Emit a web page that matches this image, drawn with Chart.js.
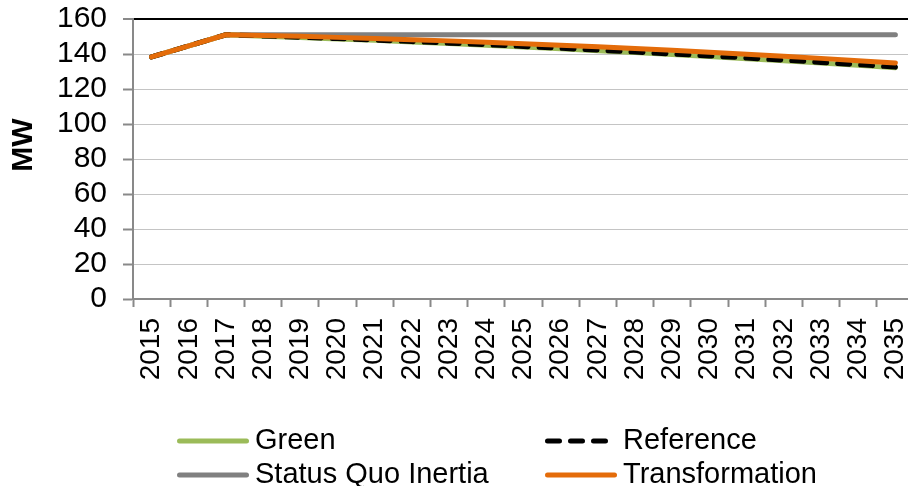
<!DOCTYPE html>
<html>
<head>
<meta charset="utf-8">
<script src="https://cdn.jsdelivr.net/npm/chart.js@4/dist/chart.umd.min.js"></script>
<style>
  html, body { margin: 0; padding: 0; background: #fff; overflow: hidden; width: 908px; height: 486px; }
  #wrap { position: absolute; left: 0; top: 0; width: 914px; height: 486px; }
  #legend { position: absolute; left: 0; top: 0; font-family: "Liberation Sans", Arial, sans-serif; font-size: 29px; color: #000; }
  .item { position: absolute; display: flex; align-items: center; white-space: nowrap; line-height: 29px; height: 29px; }
  .item svg { margin-right: 6px; }
</style>
</head>
<body>
<div id="wrap"><canvas id="c"></canvas></div>
<div id="legend"></div>
<script>
// Annual capacity (MW) under four scenarios, 2015-2035
const years = ['2015','2016','2017','2018','2019','2020','2021','2022','2023','2024','2025',
               '2026','2027','2028','2029','2030','2031','2032','2033','2034','2035'];

const green          = [138.3, 144.7, 151.0, 150.2, 149.4, 148.6, 147.8, 146.9, 146.0, 145.0, 144.0,
                        143.0, 141.9, 140.8, 139.7, 138.5, 137.3, 136.1, 134.8, 133.5, 132.2];
const reference      = [138.3, 144.7, 151.0, 150.3, 149.6, 148.8, 148.0, 147.1, 146.2, 145.3, 144.3,
                        143.3, 142.2, 141.1, 140.0, 138.9, 137.7, 136.5, 135.2, 133.9, 132.5];
const statusQuo      = [138.3, 144.7, 151.0, 151.0, 151.0, 151.0, 151.0, 151.0, 151.0, 151.0, 151.0,
                        151.0, 151.0, 151.0, 151.0, 151.0, 151.0, 151.0, 151.0, 151.0, 151.0];
const transformation = [138.3, 144.7, 151.0, 150.6, 150.1, 149.5, 148.9, 148.2, 147.5, 146.7, 145.9,
                        145.0, 144.1, 143.1, 142.1, 141.0, 139.9, 138.7, 137.5, 136.2, 134.9];

const yTicks = [0, 20, 40, 60, 80, 100, 120, 140, 160];
const yTitle = 'MW';

const FONT = '"Liberation Sans", Arial, sans-serif';
const DASH = [12, 11];

// legend order: Green, Reference / Status Quo Inertia, Transformation
const series = [
  { label: 'Green',               data: green,          color: '#9BBB59', dash: [],   order: 2 },
  { label: 'Reference',           data: reference,      color: '#000000', dash: DASH, order: 1 },
  { label: 'Status Quo Inertia',  data: statusQuo,      color: '#808080', dash: [],   order: 3 },
  { label: 'Transformation',      data: transformation, color: '#E46C0A', dash: [],   order: 0 }
];

const yTitlePlugin = {
  id: 'yTitle',
  afterDraw(chart) {
    const { ctx, chartArea } = chart;
    ctx.save();
    ctx.translate(24, chartArea.top + chartArea.height / 2 - 14);
    ctx.rotate(-Math.PI / 2);
    ctx.font = 'bold 30px ' + FONT;
    ctx.fillStyle = '#000';
    ctx.textAlign = 'center';
    ctx.textBaseline = 'middle';
    ctx.fillText(yTitle, 0, 0);
    ctx.restore();
  }
};

new Chart(document.getElementById('c'), {
  type: 'line',
  data: {
    labels: years,
    datasets: series.map(s => ({
      label: s.label,
      data: s.data,
      borderColor: s.color,
      backgroundColor: s.color,
      borderWidth: 5,
      borderDash: s.dash,
      borderCapStyle: 'round',
      borderJoinStyle: 'round',
      pointRadius: 0,
      tension: 0,
      fill: false,
      order: s.order
    }))
  },
  options: {
    responsive: true,
    maintainAspectRatio: false,
    animation: false,
    events: [],
    layout: { padding: { top: 19, right: 0, left: 0, bottom: 0 } },
    plugins: { legend: { display: false }, tooltip: { enabled: false }, title: { display: false } },
    scales: {
      x: {
        type: 'category',
        offset: true,
        afterFit(scale) {
          scale.height = 187;
          scale.paddingLeft = 0;
          scale.paddingRight = 0;
        },
        border: { display: true, color: '#898989', width: 2 },
        grid: {
          display: true,
          drawOnChartArea: false,
          drawTicks: true,
          tickLength: 8,
          offset: true,
          tickColor: '#898989',
          tickWidth: 2
        },
        ticks: {
          autoSkip: false,
          minRotation: 90,
          maxRotation: 90,
          padding: 11,
          color: '#000',
          font: { family: FONT, size: 28 }
        }
      },
      y: {
        min: 0,
        max: 160,
        afterFit(scale) {
          scale.width = 133;
          scale.paddingTop = 0;
          scale.paddingBottom = 0;
        },
        afterBuildTicks(scale) { scale.ticks = yTicks.map(v => ({ value: v })); },
        border: { display: true, color: '#898989', width: 2 },
        grid: {
          color: ctx => ctx.tick && ctx.tick.value === 160 ? '#000' : '#c4c4c4',
          lineWidth: ctx => ctx.tick && ctx.tick.value === 160 ? 2 : 1,
          borderDash: ctx => ctx.tick && ctx.tick.value === 160 ? [] : [3, 2],
          tickLength: 10,
          tickColor: '#898989',
          tickWidth: 2,
          tickBorderDash: []
        },
        ticks: {
          autoSkip: false,
          padding: 16,
          color: '#000',
          font: { family: FONT, size: 30 }
        }
      }
    }
  },
  plugins: [yTitlePlugin]
});

// Two-column legend under the plot
const legendPos = [
  { left: 177, top: 425 }, { left: 545, top: 425 },
  { left: 177, top: 459 }, { left: 545, top: 459 }
];
const legendEl = document.getElementById('legend');
series.forEach((s, i) => {
  const item = document.createElement('div');
  item.className = 'item';
  item.style.left = legendPos[i].left + 'px';
  item.style.top = legendPos[i].top + 'px';
  const dashAttr = s.dash.length ? ' stroke-dasharray="' + s.dash.join(' ') + '"' : '';
  const x1 = 2.5, x2 = s.dash.length ? 63 : 69.5;
  item.innerHTML =
    '<svg width="72" height="29"><line x1="' + x1 + '" y1="16" x2="' + x2 + '" y2="16" stroke="' + s.color +
    '" stroke-width="5" stroke-linecap="round"' + dashAttr + '/></svg><span>' + s.label + '</span>';
  legendEl.appendChild(item);
});
</script>
</body>
</html>
